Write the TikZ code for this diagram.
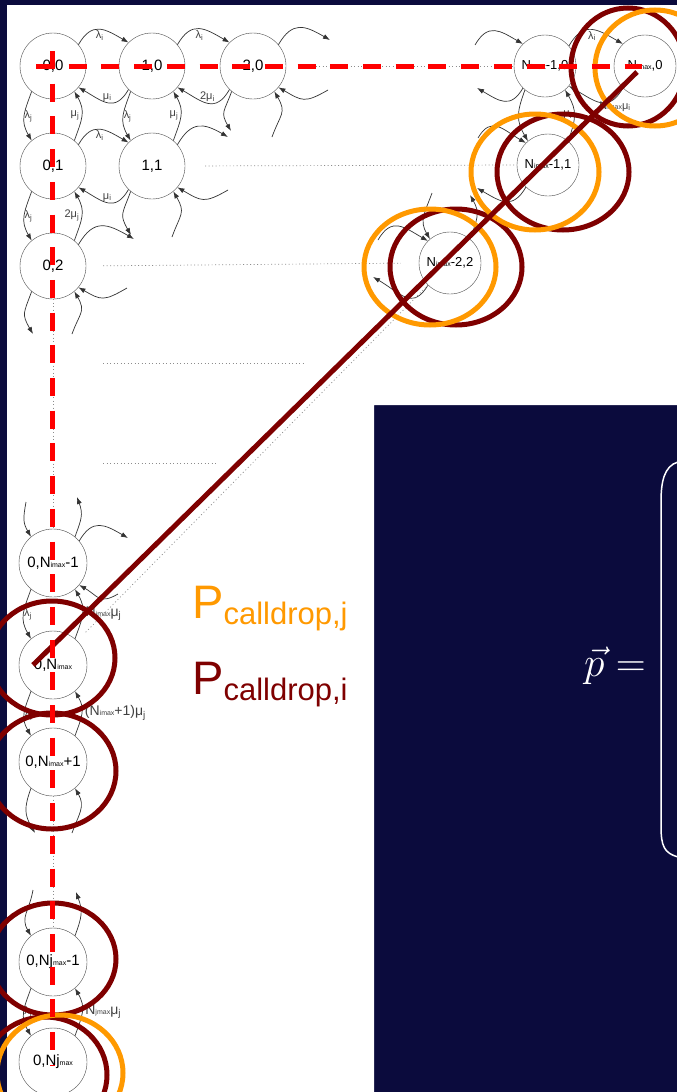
\documentclass[tikz,border=0pt]{standalone}
\usepackage{fontspec}
\setmainfont{Liberation Sans}
\usetikzlibrary{arrows.meta}
\definecolor{lcnavy}{HTML}{0B0B3D}
\definecolor{lcdarkred}{HTML}{7F0000}
\definecolor{lcorange}{HTML}{FF9900}
\definecolor{lcred}{HTML}{FF0000}
\newcommand{\smallsub}[1]{{\fontsize{7}{7}\selectfont #1}}

\begin{document}
\begin{tikzpicture}[x=1pt, y=1pt,
    state/.style={draw=black!70, circle, minimum size=66pt, inner sep=0pt, font=\fontsize{15}{15}\selectfont},
    nstate/.style={state, minimum size=62pt, font=\fontsize{13}{13}\selectfont},
    lstate/.style={state, minimum size=68pt},
    trans/.style={draw=black!80, line width=0.7pt, looseness=1.4, -{Latex[length=7pt,width=5pt]}},
    rate/.style={font=\fontsize{11}{11}\selectfont, inner sep=1pt, text=black!75},
    bigrate/.style={rate, font=\fontsize{14}{14}\selectfont},
    dotline/.style={draw=black!45, line width=0.7pt, dash pattern=on 1pt off 2.5pt},
    reddash/.style={draw=lcred, line width=5pt, dash pattern=on 18pt off 14.7pt},
    ringred/.style={draw=lcdarkred, line width=5pt},
    ringorange/.style={draw=lcorange, line width=5pt}]

  % background and white sheet
  \fill[lcnavy] (0,0) rectangle (677,-1092);
  \useasboundingbox (0,0) rectangle (677,-1092);
  \fill[white] (7,-5) -- (677,-5) -- (677,-405) -- (374,-405) -- (374,-1092) -- (7,-1092) -- cycle;

  % states, top left corner
  \node[state] (s00) at (53,-66) {0,0};
  \node[state] (s10) at (152,-66) {1,0};
  \node[state] (s20) at (253,-66) {2,0};
  \node[state] (s01) at (53,-166) {0,1};
  \node[state] (s11) at (152,-166) {1,1};
  \node[state] (s02) at (53,-266) {0,2};

  % states, diagonal end
  \node[nstate] (sNm10) at (545,-66) {N\smallsub{imax}-1,0};
  \node[nstate] (sN0) at (645,-66) {N\smallsub{imax},0};
  \node[nstate] (sNm11) at (548,-165) {N\smallsub{imax}-1,1};
  \node[nstate] (sNm22) at (450,-263) {N\smallsub{imax}-2,2};

  % states, left column
  \node[lstate] (s0Nm1) at (53,-563) {0,N\smallsub{imax}-1};
  \node[lstate] (s0N) at (53,-665) {0,N\smallsub{imax}};
  \node[lstate] (s0N1) at (53,-762) {0,N\smallsub{imax}+1};
  \node[lstate] (s0Mm1) at (53,-962) {0,Nj\smallsub{max}-1};
  \node[lstate] (s0M) at (53,-1062) {0,Nj\smallsub{max}};

  % free ends of the cut transitions
  \coordinate (d20ro) at (330,-40);
  \coordinate (d20ri) at (328,-90);
  \coordinate (d20do) at (231,-131);
  \coordinate (d20di) at (272,-137);
  \coordinate (d11ro) at (228,-137);
  \coordinate (d11ri) at (228,-190);
  \coordinate (d11do) at (131,-235);
  \coordinate (d11di) at (172,-237);
  \coordinate (d02ro) at (134,-239);
  \coordinate (d02ri) at (127,-288);
  \coordinate (d02do) at (33,-334);
  \coordinate (d02di) at (72,-334);
  \coordinate (dAli) at (475,-45);
  \coordinate (dAlo) at (477,-88);
  \coordinate (dBli) at (478,-138);
  \coordinate (dBlo) at (477,-188);
  \coordinate (dCli) at (378,-240);
  \coordinate (dClo) at (373,-277);
  \coordinate (dCuo) at (470,-195);
  \coordinate (dCui) at (432,-193);
  \coordinate (d1ui) at (26,-502);
  \coordinate (d1uo) at (77,-497);
  \coordinate (d1ro) at (128,-538);
  \coordinate (d1ri) at (118,-594);
  \coordinate (d3do) at (35,-833);
  \coordinate (d3di) at (72,-833);
  \coordinate (d4ui) at (33,-890);
  \coordinate (d4uo) at (76,-892);

  % row 0
  \draw[trans] (s00.40) to[out=60,in=150] node[rate,below]{λ\textsubscript{i}} (s10.135);
  \draw[trans] (s10.-135) to[out=-120,in=-30] node[rate,above]{μ\textsubscript{i}} (s00.-40);
  \draw[trans] (s10.40) to[out=60,in=150] node[rate,below]{λ\textsubscript{i}} (s20.135);
  \draw[trans] (s20.-135) to[out=-120,in=-30] node[rate,above]{2μ\textsubscript{i}} (s10.-40);
  \draw[trans] (s20.40) to[out=60,in=150] (d20ro);
  \draw[trans] (d20ri) to[out=-150,in=-30] (s20.-40);
  \draw[trans] (s20.-130) to[out=-110,in=120] (d20do);
  \draw[trans] (d20di) to[out=70,in=-60] (s20.-50);

  % row 1
  \draw[trans] (s00.-130) to[out=-110,in=120,looseness=1.2] node[rate,right=-1pt]{λ\textsubscript{j}} (s01.130);
  \draw[trans] (s01.50) to[out=70,in=-60,looseness=1.2] node[rate,left=1pt]{μ\textsubscript{j}} (s00.-50);
  \draw[trans] (s10.-130) to[out=-110,in=120,looseness=1.2] node[rate,right=-1pt]{λ\textsubscript{j}} (s11.130);
  \draw[trans] (s11.50) to[out=70,in=-60,looseness=1.2] node[rate,left=1pt]{μ\textsubscript{j}} (s10.-50);
  \draw[trans] (s01.40) to[out=60,in=150] node[rate,below]{λ\textsubscript{i}} (s11.135);
  \draw[trans] (s11.-135) to[out=-120,in=-30] node[rate,above]{μ\textsubscript{i}} (s01.-40);
  \draw[trans] (s11.40) to[out=60,in=150] (d11ro);
  \draw[trans] (d11ri) to[out=-150,in=-30] (s11.-40);
  \draw[trans] (s11.-130) to[out=-110,in=120] (d11do);
  \draw[trans] (d11di) to[out=70,in=-60] (s11.-50);

  % row 2
  \draw[trans] (s01.-130) to[out=-110,in=120,looseness=1.2] node[rate,right=-1pt]{λ\textsubscript{j}} (s02.130);
  \draw[trans] (s02.50) to[out=70,in=-60,looseness=1.2] node[rate,left=1pt]{2μ\textsubscript{j}} (s01.-50);
  \draw[trans] (s02.40) to[out=60,in=150] (d02ro);
  \draw[trans] (d02ri) to[out=-150,in=-30] (s02.-40);
  \draw[trans] (s02.-130) to[out=-110,in=120] (d02do);
  \draw[trans] (d02di) to[out=70,in=-60] (s02.-50);

  % diagonal end
  \draw[trans] (dAli) to[out=60,in=150] (sNm10.135);
  \draw[trans] (sNm10.-135) to[out=-120,in=-30] (dAlo);
  \draw[trans] (sNm10.40) to[out=60,in=150] node[rate,below]{λ\textsubscript{i}} (sN0.135);
  \draw[trans] (sN0.-135) to[out=-120,in=-30] node[rate,below right=-2pt]{N\smallsub{imax}μ\textsubscript{i}} (sNm10.-40);
  \draw[trans] (sNm10.-130) to[out=-110,in=120,looseness=1.2] (sNm11.130);
  \draw[trans] (sNm11.50) to[out=70,in=-60,looseness=1.2] node[rate,left=1pt]{μ\textsubscript{i}} (sNm10.-50);
  \draw[trans] (dBli) to[out=60,in=150] (sNm11.135);
  \draw[trans] (sNm11.-135) to[out=-120,in=-30] (dBlo);
  \draw[trans] (dCli) to[out=60,in=150] (sNm22.135);
  \draw[trans] (sNm22.-135) to[out=-120,in=-30] (dClo);
  \draw[trans] (dCui) to[out=-110,in=120,looseness=1.2] (sNm22.130);
  \draw[trans] (sNm22.50) to[out=70,in=-60,looseness=1.2] (dCuo);

  % left column
  \draw[trans] (d1ui) to[out=-100,in=120,looseness=1.2] (s0Nm1.130);
  \draw[trans] (s0Nm1.50) to[out=70,in=-70,looseness=1.2] (d1uo);
  \draw[trans] (s0Nm1.40) to[out=60,in=150] (d1ro);
  \draw[trans] (d1ri) to[out=-150,in=-30] (s0Nm1.-40);
  \draw[trans] (s0Nm1.-130) to[out=-110,in=120,looseness=1.2] node[rate,right=-1pt]{λ\textsubscript{j}} (s0N.130);
  \draw[trans] (s0N.50) to[out=70,in=-60,looseness=1.2] node[bigrate,right=2pt]{N\smallsub{imax}μ\textsubscript{j}} (s0Nm1.-50);
  \draw[trans] (s0N.-130) to[out=-110,in=120,looseness=1.2] node[rate,right=-1pt]{λ\textsubscript{j}} (s0N1.130);
  \draw[trans] (s0N1.50) to[out=70,in=-60,looseness=1.2] node[bigrate,right=2pt]{(N\smallsub{imax}+1)μ\textsubscript{j}} (s0N.-50);
  \draw[trans] (s0N1.-130) to[out=-110,in=120,looseness=1.2] (d3do);
  \draw[trans] (d3di) to[out=70,in=-60,looseness=1.2] (s0N1.-50);
  \draw[trans] (d4ui) to[out=-100,in=120,looseness=1.2] (s0Mm1.130);
  \draw[trans] (s0Mm1.50) to[out=70,in=-70,looseness=1.2] (d4uo);
  \draw[trans] (s0Mm1.-130) to[out=-110,in=120,looseness=1.2] node[rate,right=-1pt]{λ\textsubscript{j}} (s0M.130);
  \draw[trans] (s0M.50) to[out=70,in=-60,looseness=1.2] node[bigrate,right=2pt]{N\smallsub{jmax}μ\textsubscript{j}} (s0Mm1.-50);

  % dotted continuations
  \draw[dotline, shorten <=12pt] (s20.east) -- (sNm10.west);
  \draw[dotline, shorten <=20pt] (s11.east) -- (sNm11.west);
  \draw[dotline, shorten <=17pt, shorten >=18pt] (s02.east) -- (sNm22.west);
  \draw[dotline] (103,-363) -- (303,-363);
  \draw[dotline] (103,-463) -- (217,-463);
  \draw[dotline, shorten >=10pt] (sNm22.-135) -- (s0N.45);
  \draw[dotline] (s02.south) -- (s0Nm1.north);
  \draw[dotline] (s0N1.south) -- (s0Mm1.north);

  % call drop rings
  \draw[ringred] (628,-67) ellipse [x radius=57, y radius=59];
  \draw[ringred] (563,-172) ellipse [x radius=66, y radius=58];
  \draw[ringred] (456,-267) ellipse [x radius=66, y radius=58];
  \draw[ringred] (52,-658) ellipse [x radius=63, y radius=57];
  \draw[ringred] (52,-771) ellipse [x radius=64, y radius=58];
  \draw[ringred] (53,-959) ellipse [x radius=63, y radius=56];
  \draw[ringred] (45,-1075) ellipse [x radius=62, y radius=58];
  \draw[ringorange] (655,-68) ellipse [x radius=60, y radius=58];
  \draw[ringorange] (535,-172) ellipse [x radius=64, y radius=58];
  \draw[ringorange] (430,-267) ellipse [x radius=66, y radius=58];
  \draw[ringorange] (60,-1073) ellipse [x radius=63, y radius=58];

  % blocking boundary
  \draw[lcdarkred, line width=5pt] ([shift={(-8,-6)}]sN0.center) -- ([xshift=-20pt]s0N.center);

  % single-class axes
  \draw[reddash] ([xshift=-17pt]s00.center) -- ([xshift=-3pt]sN0.center);
  \draw[reddash] ([shift={(-1,15)}]s00.center) -- ([shift={(-1,-4)}]s0M.center);

  % labels
  \node[anchor=base west, inner sep=0pt, text=lcorange] (pj) at (192,-618)
    {\fontsize{47}{47}\selectfont P\raisebox{-6pt}{\fontsize{31}{31}\selectfont calldrop,j}};
  \node[anchor=base west, inner sep=0pt, text=lcdarkred] (pi) at (192,-694)
    {\fontsize{47}{47}\selectfont P\raisebox{-6pt}{\fontsize{31}{31}\selectfont calldrop,i}};

  % state vector
  \node[anchor=base east, inner sep=0pt, text=white] (pvec) at (646,-676)
    {\fontsize{20}{20}\selectfont\scalebox{2}{$\vec{p}=$}};
  \draw[white, line width=1.5pt] (678,-462) .. controls (664,-466) and (661,-482) .. (661,-502)
    -- (661,-826) .. controls (661,-846) and (664,-853) .. (678,-857);
\end{tikzpicture}
\end{document}
